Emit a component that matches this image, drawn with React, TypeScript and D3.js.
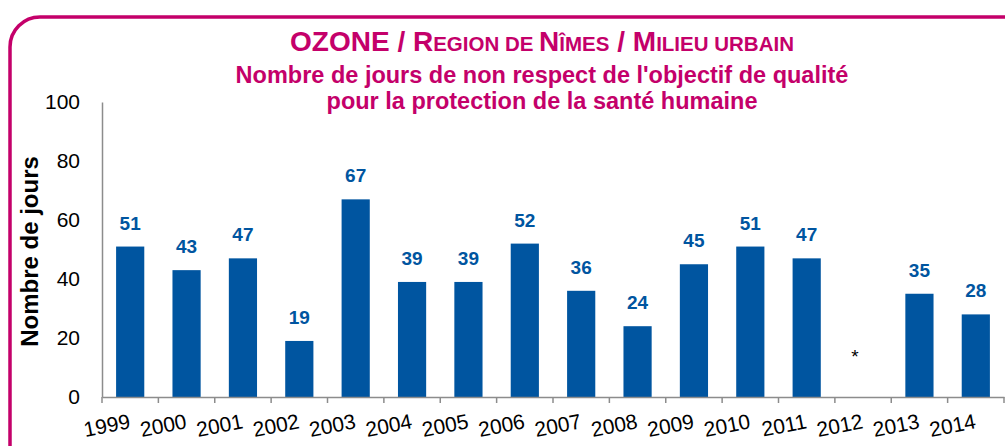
import { useEffect, useRef } from "react";
import * as d3 from "d3";

const years = ["1999", "2000", "2001", "2002", "2003", "2004", "2005", "2006", "2007", "2008", "2009", "2010", "2011", "2012", "2013", "2014"];
const days: (number | null)[] = [51, 43, 47, 19, 67, 39, 39, 52, 36, 24, 45, 51, 47, null, 35, 28];
const yTicks = [0, 20, 40, 60, 80, 100];

const PINK = "#c4006a";
const BLUE = "#0055a0";

export default function App() {
  const svgRef = useRef<SVGSVGElement>(null);

  useEffect(() => {
    if (!svgRef.current) return;
    const width = 1005;
    const height = 446;
    const margin = { top: 102, right: 1, left: 102, bottom: 49 };

    d3.select(svgRef.current).selectAll("*").remove();
    const svg = d3.select(svgRef.current)
      .attr("width", width)
      .attr("height", height)
      .style("font-family", "'Liberation Sans', Arial, sans-serif");

    // Frame
    svg.append("rect")
      .attr("x", 10)
      .attr("y", 17)
      .attr("width", 1030)
      .attr("height", 460)
      .attr("rx", 30)
      .attr("fill", "none")
      .attr("stroke", PINK)
      .attr("stroke-width", 3.5);

    // Titles
    const t = svg.append("text")
      .attr("x", 542)
      .attr("y", 51)
      .attr("text-anchor", "middle")
      .attr("fill", PINK)
      .attr("font-weight", "bold");
    const parts: [string, number][] = [
      ["OZONE / R", 28], ["EGION DE ", 20.5], ["N", 28], ["ÎMES", 20.5],
      [" / M", 28], ["ILIEU URBAIN", 20.5]
    ];
    parts.forEach(([s, fs]) => t.append("tspan").attr("font-size", fs).text(s));

    ["Nombre de jours de non respect de l'objectif de qualité", "pour la protection de la santé humaine"]
      .forEach((line, i) => {
        svg.append("text")
          .attr("x", 542)
          .attr("y", 83 + i * 26)
          .attr("text-anchor", "middle")
          .attr("fill", PINK)
          .attr("font-weight", "bold")
          .attr("font-size", 23.5)
          .text(line);
      });

    const x = d3.scaleBand<string>()
      .domain(years)
      .range([margin.left, width - margin.right])
      .paddingInner(0.5)
      .paddingOuter(0.25);

    const y = d3.scaleLinear()
      .domain([0, 100])
      .range([height - margin.bottom, margin.top]);

    // Bars
    const data = years.map((yr, i) => ({ yr, v: days[i] }));
    svg.append("g")
      .selectAll("rect")
      .data(data.filter(d => d.v !== null))
      .join("rect")
      .attr("x", d => x(d.yr)!)
      .attr("y", d => y(d.v as number))
      .attr("width", x.bandwidth())
      .attr("height", d => y(0) - y(d.v as number))
      .attr("fill", BLUE);

    svg.append("g")
      .selectAll("text")
      .data(data.filter(d => d.v !== null))
      .join("text")
      .attr("x", d => x(d.yr)! + x.bandwidth() / 2)
      .attr("y", d => y(d.v as number) - 17)
      .attr("text-anchor", "middle")
      .attr("fill", BLUE)
      .attr("font-weight", "bold")
      .attr("font-size", 19)
      .text(d => String(d.v));

    // Missing year marker
    data.filter(d => d.v === null).forEach(d => {
      svg.append("text")
        .attr("x", x(d.yr)! + x.bandwidth() / 2 - 8)
        .attr("y", y(12) + 1)
        .attr("text-anchor", "middle")
        .attr("font-size", 19)
        .attr("fill", "#000")
        .text("*");
    });

    // Y axis
    const yAxis = svg.append("g")
      .attr("transform", `translate(${margin.left},0)`)
      .call(d3.axisLeft(y).tickValues(yTicks).tickSize(0).tickPadding(22));
    yAxis.select(".domain").attr("stroke", "#8c8c8c").attr("stroke-width", 1.5);
    yAxis.selectAll("text")
      .attr("font-size", 21)
      .attr("fill", "#000")
      .attr("font-family", "'Liberation Sans', Arial, sans-serif");

    // X axis
    const xAxis = svg.append("g")
      .attr("transform", `translate(0,${y(0)})`)
      .call(d3.axisBottom(x).tickSize(0).tickFormat(() => ""));
    xAxis.select(".domain").attr("stroke", "#8c8c8c").attr("stroke-width", 1.5);
    const step = x.step();
    const tickXs = d3.range(years.length + 1).map(i => margin.left + i * step);
    xAxis.selectAll("line.sep")
      .data(tickXs)
      .join("line")
      .attr("class", "sep")
      .attr("x1", d => d)
      .attr("x2", d => d)
      .attr("y1", 0)
      .attr("y2", 6)
      .attr("stroke", "#8c8c8c")
      .attr("stroke-width", 1.5);

    svg.append("g")
      .selectAll("text")
      .data(years)
      .join("text")
      .attr("transform", d => `translate(${x(d)! + x.bandwidth() / 2 + 1},${y(0) + 31}) rotate(-11)`)
      .attr("text-anchor", "end")
      .attr("font-size", 21)
      .attr("fill", "#000")
      .text(d => d);

    // Y label
    svg.append("text")
      .attr("transform", `translate(38,${(y(0) + y(100)) / 2 + 2}) rotate(-90)`)
      .attr("text-anchor", "middle")
      .attr("font-weight", "bold")
      .attr("font-size", 24)
      .attr("fill", "#000")
      .text("Nombre de jours");
  }, []);

  return <svg ref={svgRef} style={{ position: "absolute", left: 0, top: 0 }} />;
}
